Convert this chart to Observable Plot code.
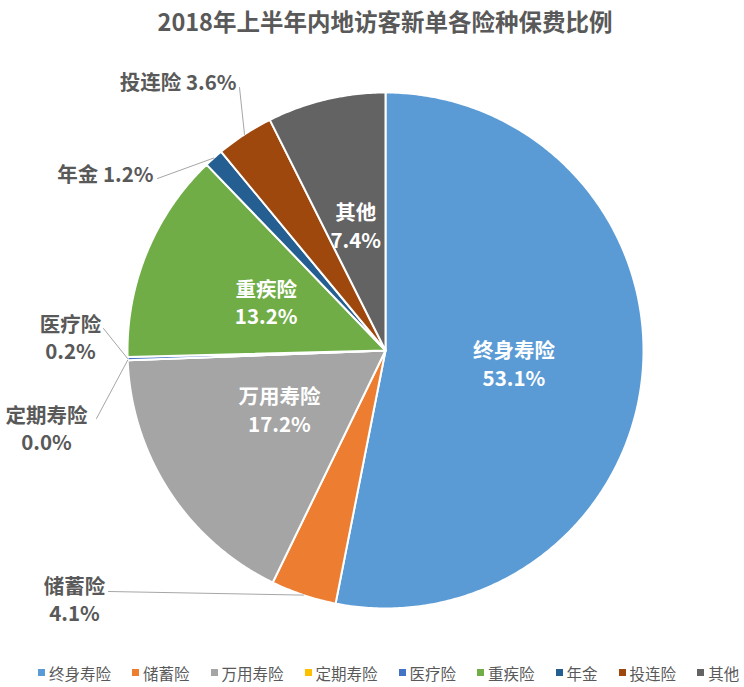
<!DOCTYPE html>
<html>
<head>
<meta charset="utf-8">
<script src="https://cdn.jsdelivr.net/npm/d3@7"></script>
<script src="https://cdn.jsdelivr.net/npm/@observablehq/plot@0.6"></script>
<style>
  html, body { margin: 0; padding: 0; background: #fff; }
  body { width: 744px; height: 687px; overflow: hidden; font-family: "Noto Sans CJK SC", "Noto Sans", sans-serif; }
  #title { height: 40px; line-height: 42px; text-align: center; font-size: 23.5px; font-weight: bold; color: #595959; padding-left: 26px; box-sizing: border-box; }
  #chart svg { display: block; }
  #legend { margin-top: 6px; }
  body .lg-swatches { flex-wrap: nowrap !important; justify-content: flex-start !important; padding-left: 38px; font-family: "Noto Sans CJK SC", sans-serif !important; font-size: 15.5px !important; color: #595959 !important; white-space: nowrap; }
  body .lg-swatch { margin-right: 21px !important; }
  body .lg-swatch > svg { margin-right: 4px !important; }
</style>
</head>
<body>
<div id="title">2018年上半年内地访客新单各险种保费比例</div>
<div id="chart"></div>
<div id="legend"></div>
<script>
// ---- data ----
const categories = ["终身寿险", "储蓄险", "万用寿险", "定期寿险", "医疗险", "重疾险", "年金", "投连险", "其他"];
const shares = [53.1, 4.1, 17.2, 0.0, 0.2, 13.2, 1.2, 3.6, 7.4];
const colors = ["#5B9BD5", "#ED7D31", "#A5A5A5", "#FFC000", "#4472C4", "#70AD47", "#255E91", "#9E480E", "#636363"];
const pctLabels = shares.map(v => v.toFixed(1) + "%");
const insideCats = ["终身寿险", "万用寿险", "重疾险", "其他"];

// ---- layout ----
const W = 744, H = 610, cx = 385, cy = 310, R = 258, TOP = 40;
const FONT = "Noto Sans CJK SC, sans-serif";
const LABEL_SIZE = 20.5;
const insideNudge = {"万用寿险": {dx: 2, dy: -12}};
// outside labels: label position (page px) and leader start (page px)
const outsideLayout = {
  "储蓄险":  {x: 74,  y: 598, anchor: "middle", two: true, lx: 108, ly: 591},
  "定期寿险": {x: 46,  y: 427, anchor: "middle", two: true, lx: 96,  ly: 418},
  "医疗险":  {x: 70,  y: 336, anchor: "middle", two: true, lx: 103, ly: 328},
  "年金":   {x: 153, y: 175, anchor: "end",    two: false, lx: 157, ly: 178},
  "投连险":  {x: 236, y: 83,  anchor: "end",    two: false, lx: 239, ly: 87}
};

const pie = d3.pie().sort(null).value(d => d.share).startAngle(0).endAngle(2 * Math.PI);
const rows = categories.map((c, i) => ({cat: c, share: shares[i], pct: pctLabels[i]}));
const arcs = pie(rows);
const pt = (a, r) => ({x: cx + r * Math.sin(a), y: cy - r * Math.cos(a)});

const polyPts = [];
arcs.forEach(a => {
  const c = a.data.cat;
  polyPts.push({cat: c, ...pt(0, 0)});
  const n = Math.max(2, Math.ceil((a.endAngle - a.startAngle) / 0.01));
  for (let k = 0; k <= n; k++) {
    const ang = a.startAngle + (a.endAngle - a.startAngle) * k / n;
    polyPts.push({cat: c, ...pt(ang, R)});
  }
});

const inside = arcs.filter(a => insideCats.includes(a.data.cat)).map(a => {
  const m = (a.startAngle + a.endAngle) / 2;
  const p = pt(m, R * 0.5);
  const nd = insideNudge[a.data.cat] || {dx: 0, dy: 0};
  return {x: p.x + nd.dx, y: p.y + nd.dy, text: a.data.cat + "\n" + a.data.pct};
});

const outside = [];
const leaderPts = [];
arcs.forEach(a => {
  const L = outsideLayout[a.data.cat];
  if (!L) return;
  const m = (a.startAngle + a.endAngle) / 2;
  const p = pt(m, R);
  outside.push({x: L.x, y: L.y - TOP, anchor: L.anchor, text: L.two ? a.data.cat + "\n" + a.data.pct : a.data.cat + " " + a.data.pct});
  leaderPts.push({cat: a.data.cat, x: L.lx, y: L.ly - TOP});
  leaderPts.push({cat: a.data.cat, x: p.x, y: p.y});
});

const chart = Plot.plot({
  width: W, height: H, margin: 0,
  x: {domain: [0, W], range: [0, W], axis: null},
  y: {domain: [0, H], range: [0, H], axis: null},
  color: {domain: categories, range: colors},
  style: {background: "transparent", overflow: "visible"},
  marks: [
    Plot.line(polyPts, {x: "x", y: "y", z: "cat", fill: "cat", stroke: "#fff", strokeWidth: 2, strokeLinejoin: "round", curve: "linear-closed"}),
    Plot.line(leaderPts, {x: "x", y: "y", z: "cat", stroke: "#a6a6a6", strokeWidth: 1}),
    Plot.text(inside, {x: "x", y: "y", text: "text", fill: "#fff", fontSize: LABEL_SIZE, fontWeight: "bold", lineHeight: 1.35, fontFamily: FONT}),
    Plot.text(outside.filter(d => d.anchor === "middle"), {x: "x", y: "y", text: "text", fill: "#595959", fontSize: LABEL_SIZE, fontWeight: "bold", lineHeight: 1.35, textAnchor: "middle", fontFamily: FONT}),
    Plot.text(outside.filter(d => d.anchor === "end"), {x: "x", y: "y", text: "text", fill: "#595959", fontSize: LABEL_SIZE, fontWeight: "bold", textAnchor: "end", fontFamily: FONT})
  ]
});
document.getElementById("chart").appendChild(chart);

const legend = Plot.legend({
  color: {type: "ordinal", domain: categories, range: colors},
  legend: "swatches", swatchSize: 7, className: "lg"
});
document.getElementById("legend").appendChild(legend);
</script>
</body>
</html>
